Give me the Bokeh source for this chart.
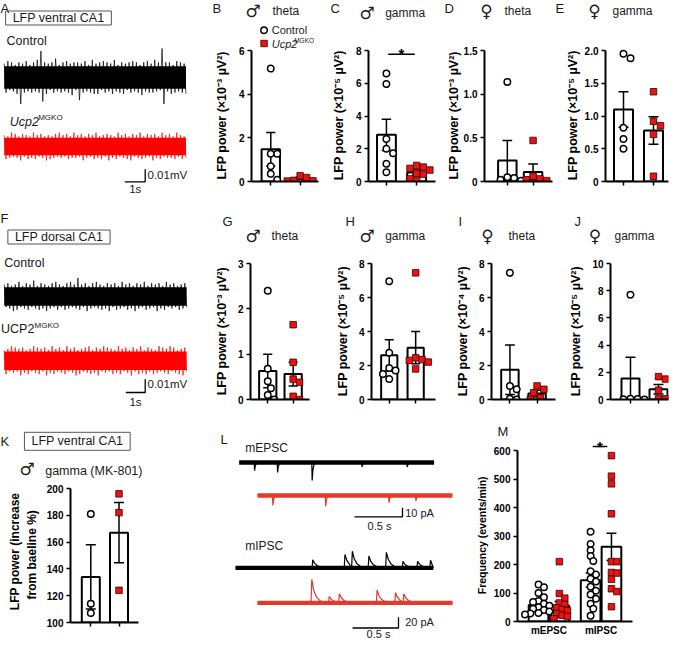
from bokeh.plotting import figure
from bokeh.models import Range1d, FixedTicker, Label
from bokeh.layouts import row, column
from bokeh.embed import file_html
from bokeh.resources import INLINE

# ---------------- values ----------------
# B: male, theta, ventral CA1 (x10^-3 uV^2)
b_ctrl = [5.17, 1.27, 1.27, 0.70, 0.35, 0.08]
b_ko = [0.26, 0.18, 0.05, 0.03, 0.02]
b_mean = [1.48, 0.15]
b_sem = [0.77, 0.05]
b_ticks = [0, 2, 4, 6]
# C: male, gamma, ventral CA1 (x10^-5 uV^2)
c_ctrl = [6.6, 5.95, 2.6, 2.0, 1.73, 1.08, 0.57]
c_ko = [0.98, 0.88, 0.8, 0.7, 0.5, 0.45, 0.16, 0.06]
c_mean = [2.85, 0.55]
c_sem = [0.95, 0.15]
c_ticks = [0, 2, 4, 6, 8]
c_sig_y = 7.77
# D: female, theta, ventral CA1 (x10^-3 uV^2)
d_ctrl = [1.14, 0.05, 0.04, 0.02, 0.01]
d_ko = [0.47, 0.06, 0.03, 0.02, 0.01]
d_mean = [0.24, 0.11]
d_sem = [0.23, 0.09]
d_ticks = [0, 0.5, 1.0, 1.5]
# E: female, gamma, ventral CA1 (x10^-5 uV^2)
e_ctrl = [1.95, 1.88, 0.82, 0.65, 0.5]
e_ko = [1.37, 0.92, 0.85, 0.72, 0.08]
e_mean = [1.1, 0.78]
e_sem = [0.27, 0.21]
e_ticks = [0, 0.5, 1.0, 1.5, 2.0]
# G: male, theta, dorsal CA1 (x10^-3 uV^2)
g_ctrl = [2.4, 0.68, 0.4, 0.25, 0.1, 0.0]
g_ko = [1.65, 0.82, 0.45, 0.38, 0.07, 0.0]
g_mean = [0.63, 0.56]
g_sem = [0.37, 0.26]
g_ticks = [0, 1, 2, 3]
# H: male, gamma, dorsal CA1 (x10^-5 uV^2)
h_ctrl = [6.95, 2.75, 1.85, 1.7, 1.5, 1.2]
h_ko = [7.45, 2.45, 2.35, 2.3, 2.2, 1.8]
h_mean = [2.6, 3.05]
h_sem = [0.92, 0.95]
h_ticks = [0, 2, 4, 6, 8]
# I: female, theta, dorsal CA1 (x10^-4 uV^2)
i_ctrl = [7.45, 0.8, 0.6, 0.05, 0.0]
i_ko = [0.8, 0.6, 0.4, 0.1, 0.0]
i_mean = [1.75, 0.35]
i_sem = [1.45, 0.2]
i_ticks = [0, 2, 4, 6, 8]
# J: female, gamma, dorsal CA1 (x10^-5 uV^2)
j_ctrl = [7.7, 0.05, 0.03, 0.02, 0.0]
j_ko = [1.68, 1.5, 0.68, 0.05, 0.05]
j_mean = [1.55, 0.75]
j_sem = [1.55, 0.35]
j_ticks = [0, 2, 4, 6, 8, 10]
# K: male gamma after MK-801 (% increase from baseline)
k_ctrl = [181, 114, 107]
k_ko = [196, 182, 124]
k_mean = [134, 167]
k_sem = [24, 22.5]
k_ticks = [100, 120, 140, 160, 180, 200]
# M: mEPSC / mIPSC frequency (events/min)
m_cats = ["mEPSC", "mIPSC"]
m_epsc_ctrl = [130, 120, 100, 85, 72, 68, 62, 55, 50, 45, 40, 35, 30, 28, 25, 22]
m_epsc_ko = [210, 98, 82, 65, 60, 48, 42, 38, 28, 22, 18, 10]
m_ipsc_ctrl = [315, 272, 250, 230, 212, 176, 165, 150, 140, 122, 108, 95, 80, 62, 45, 20]
m_ipsc_ko = [582, 510, 483, 378, 210, 210, 172, 170, 148, 115, 105, 52]
m_mean = [58, 56, 145, 262]
m_sem = [10, 14, 25, 48]
m_ticks = [0, 100, 200, 300, 400, 500, 600]
m_sig_y = 614

# LFP example traces (uV), evenly sampled envelope of the raw sweep
a_ctrl_uv = [11, -12, 13, -10, 12, -11, 10, -13, 12, -21, 11, -12, 13, -11, 10, -12, 12, -11, 14, -12,
             21, -19, 12, -13, 11, -10, 12, -12, 15, -11, 10, -12, 12, -11, 13, -12, 11, -14, 12, -10,
             12, -18, 11, -12, 13, -11, 10, -12, 14, -13, 11, -13, 12, -10, 13, -12, 12, -11, 11, -13,
             14, -11, 10, -12, 12, -13, 11, -10, 12, -12, 13, -11, 12, -12, 10, -14, 12, -11, 13, -12,
             11, -12, 14, -11, 12, -10, 23, -21, 12, -11, 12, -13, 10, -12, 13, -11, 12, -12, 11, -13]
a_ko_uv = [9, -10, 8, -9, 11, -8, 10, -9, 8, -11, 10, -8, 9, -10, 8, -9, 11, -10, 9, -8,
           10, -9, 8, -11, 9, -10, 8, -9, 10, -8, 11, -9, 9, -8, 10, -10, 8, -9, 11, -9,
           9, -8, 10, -11, 8, -9, 10, -8, 9, -10, 11, -9, 8, -10, 9, -8, 10, -11, 9, -9,
           8, -10, 11, -8, 9, -9, 10, -10, 8, -11, 10, -8, 9, -9, 11, -10, 8, -9, 10, -8,
           9, -11, 10, -9, 8, -10, 11, -8, 9, -9, 10, -9, 8, -10, 11, -8, 9, -10, 8, -9]
f_ctrl_uv = [9, -8, 10, -9, 8, -11, 9, -10, 11, -8, 8, -9, 10, -10, 9, -8, 12, -9, 8, -10,
             10, -9, 9, -11, 8, -9, 10, -8, 11, -10, 9, -8, 8, -10, 10, -9, 11, -8, 9, -9,
             14, -10, 9, -8, 10, -11, 8, -9, 10, -8, 11, -9, 9, -10, 8, -9, 10, -11, 9, -8,
             10, -10, 8, -9, 11, -8, 9, -10, 10, -9, 8, -11, 10, -9, 9, -8, 11, -10, 8, -9,
             10, -8, 9, -11, 10, -9, 8, -10, 11, -8, 9, -9, 10, -8, 8, -10, 9, -9, 10, -8]
f_ko_uv = [8, -10, 9, -8, 11, -9, 10, -8, 9, -11, 10, -9, 8, -10, 9, -8, 11, -9, 10, -10,
           9, -8, 10, -11, 8, -9, 11, -10, 9, -8, 10, -9, 8, -10, 11, -8, 9, -9, 10, -11,
           8, -10, 9, -8, 10, -9, 11, -10, 8, -9, 10, -11, 9, -8, 11, -9, 10, -8, 9, -10,
           8, -9, 11, -10, 9, -8, 10, -9, 8, -11, 10, -8, 9, -10, 11, -9, 8, -10, 10, -8,
           9, -10, 8, -9, 11, -8, 10, -9, 9, -10, 11, -8, 10, -9, 8, -10, 9, -11, 10, -8]

# miniature currents: event times (s) and amplitudes (pA)
epsc_ctrl_t = [0.16, 0.40, 0.76, 1.28, 1.75]
epsc_ctrl_a = [-9, -11, -20, -5, -5]
epsc_ko_t = [0.16, 0.71, 1.37, 1.65]
epsc_ko_a = [-11, -12, -8, -6]
ipsc_ctrl_t = [0.84, 1.19, 1.27, 1.45, 1.64, 1.82, 1.98, 2.12]
ipsc_ctrl_a = [15, 25, 31, 22, 29, 12, 12, 14]
ipsc_ko_t = [0.59, 0.78, 0.89, 1.30, 1.50, 1.59]
ipsc_ko_a = [44, 12, 17, 24, 19, 17]

# ---------------- styling ----------------
FONT = "Liberation Sans"
SYMF = "DejaVu Sans"
BLACK = "#000000"
TXT = "#1a1a1a"
RED_LFP = "#ff0000"
RED_PSC = "#e5392c"
RED_PT = "#ee1111"
MALE = "\u2642"
FEMALE = "\u2640"
NBSP = "\u00a0"


def new_fig(box, frame, xr, yr, **kw):
    x0, y0, x1, y1 = box
    l, t, r, b = frame
    p = figure(width=x1 - x0, height=y1 - y0, x_range=xr, y_range=yr,
               output_backend="svg", toolbar_location=None,
               min_border_left=l - x0, min_border_right=x1 - r,
               min_border_top=t - y0, min_border_bottom=y1 - b, **kw)
    p.frame_align = False
    p.extra_x_ranges = {"lx": Range1d(l, r)}
    p.extra_y_ranges = {"ly": Range1d(b, t)}
    p.outline_line_color = None
    p.background_fill_color = "white"
    p.border_fill_color = "white"
    for g in p.grid:
        g.visible = False
    return p


def txt(p, x, y, s, size=12, style="normal", font=FONT, color=TXT, align="left",
        base="middle", angle=0, **kw):
    p.add_layout(Label(x=x, y=y, x_range_name="lx", y_range_name="ly", text=s,
                       text_font=font, text_font_size=f"{size}px", text_font_style=style,
                       text_color=color, text_align=align, text_baseline=base,
                       angle=angle, **kw))


def anchor(p, name, ax, ay, ppx, ppy):
    l, r = p.extra_x_ranges["lx"].start, p.extra_x_ranges["lx"].end
    b, t = p.extra_y_ranges["ly"].start, p.extra_y_ranges["ly"].end
    xr = dict(p.extra_x_ranges)
    yr = dict(p.extra_y_ranges)
    xr[name] = Range1d((l - ax) / ppx, (r - ax) / ppx)
    yr[name] = Range1d((ay - b) / ppy, (ay - t) / ppy)
    p.extra_x_ranges = xr
    p.extra_y_ranges = yr


def swarm(vals, ppu, d=7.0):
    step = d / 2
    placed, offs = [], []
    cands = [0.0]
    for k in range(1, 14):
        cands += [k * step, -k * step]
    for v in vals:
        y = v * ppu
        for c in cands:
            if all((c - px) ** 2 + (y - py) ** 2 >= d * d for px, py in placed):
                break
        placed.append((c, y))
        offs.append(c)
    return offs


def style_axis(ax):
    ax.axis_line_width = 2
    ax.axis_line_color = BLACK
    ax.major_tick_line_width = 1.5
    ax.major_tick_line_color = BLACK
    ax.major_tick_in = 0
    ax.major_tick_out = 4
    ax.minor_tick_line_color = None
    ax.major_label_text_font = FONT
    ax.major_label_text_font_style = "bold"
    ax.major_label_text_font_size = "10px"
    ax.major_label_text_color = BLACK
    ax.major_label_standoff = 3


def bar_panel(box, frame, x1px, unit, ymin, ymax, yticks, ylabel, lab_off,
              bar_x, means, sems, pts, bar_w, overrides=None, xlabels=None,
              lab_size=12.5, dot_gap=7.0):
    x0, y0, x1, y1 = box
    l, t, r, b = frame
    ppu = (b - t) / (ymax - ymin)
    xr = Range1d(1 - (x1px - l) / unit, 1 + (r - x1px) / unit)
    yr = Range1d(ymin, ymax + (t - y0) / ppu)
    p = new_fig(box, (l, y0, r, b), xr, yr)
    ya, xa = p.yaxis[0], p.xaxis[0]
    style_axis(ya)
    style_axis(xa)
    ya.ticker = FixedTicker(ticks=yticks)
    ya.bounds = (ymin, ymax)
    if overrides:
        ya.major_label_overrides = overrides
    # the axis title is centred on the whole frame; pad its far end so that
    # it sits centred on the drawn axis (0 .. ymax) as in the original
    pad = int(round((t - y0) / (0.278 * lab_size)))
    ya.axis_label = ylabel + NBSP * pad
    ya.axis_label_text_font = FONT
    ya.axis_label_text_font_style = "bold"
    ya.axis_label_text_font_size = f"{lab_size}px"
    ya.axis_label_text_color = BLACK
    ya.axis_label_standoff = lab_off
    if xlabels:
        xa.ticker = FixedTicker(ticks=list(range(1, len(xlabels) + 1)))
        xa.major_label_overrides = {i + 1: s for i, s in enumerate(xlabels)}
        xa.major_tick_out = 0
    else:
        xa.ticker = FixedTicker(ticks=[], minor_ticks=list(bar_x))
        xa.minor_tick_line_color = BLACK
        xa.minor_tick_line_width = 1.5
        xa.minor_tick_in = 0
        xa.minor_tick_out = 4
    p.vbar(x=bar_x, top=means, bottom=ymin, width=bar_w / unit,
           fill_color="white", line_color=BLACK, line_width=2)
    cw = 5.0 / unit
    sx0, sy0, sx1, sy1 = [], [], [], []
    for x, m, s in zip(bar_x, means, sems):
        lo, hi = max(m - s, ymin), m + s
        sx0 += [x, x - cw, x - cw]
        sx1 += [x, x + cw, x + cw]
        sy0 += [lo, hi, lo]
        sy1 += [hi, hi, lo]
    p.segment(x0=sx0, y0=sy0, x1=sx1, y1=sy1, line_color=BLACK, line_width=1.5)
    for k, (x, vals) in enumerate(zip(bar_x, pts)):
        offs = swarm([v - ymin for v in vals], ppu, dot_gap)
        xs = [x + o / unit for o in offs]
        if k % 2 == 0:
            p.scatter(xs, vals, marker="circle", size=6.5, fill_color="white",
                      line_color=BLACK, line_width=1.5)
        else:
            p.scatter(xs, vals, marker="square", size=6.5, fill_color=RED_PT,
                      line_color="#330000", line_width=0.8)
    return p


def plain_fig(box):
    x0, y0, x1, y1 = box
    return new_fig(box, box, Range1d(x0, x1), Range1d(y1, y0),
                   x_axis_type=None, y_axis_type=None)


def header(box, letter, lx, ltop, sym, scx, scy, word, wx, wy):
    p = plain_fig(box)
    txt(p, lx, ltop, letter, size=13, base="top")
    txt(p, scx, scy, sym, size=17, font=SYMF, align="center")
    txt(p, wx, wy, word, size=12)
    return p


def lfp_trace(p, name, vals, step, core, color):
    t = [i * step for i in range(len(vals))]
    n = len(t)
    p.varea(x=t, y1=[-core] * n, y2=[core] * n, fill_color=color,
            x_range_name=name, y_range_name=name)
    p.line(x=t, y=vals, line_color=color, line_width=0.7,
           x_range_name=name, y_range_name=name)


EPSC_SHAPE = [(-0.004, 0.0), (0.0, 1.0), (0.008, 0.4), (0.02, 0.1), (0.04, 0.0)]
IPSC_SHAPE = [(-0.008, 0.0), (0.0, 1.0), (0.02, 0.55), (0.05, 0.25), (0.09, 0.08), (0.14, 0.0)]


def psc_trace(p, name, times, amps, dur, shape, noise, color):
    xs, ys = [0.0], [0.0]
    for i, (te, a) in enumerate(zip(times, amps)):
        nxt = times[i + 1] if i + 1 < len(times) else dur
        for dt, f in shape:
            tt = te + dt
            if (dt <= 0 or tt < nxt - 0.01) and tt > xs[-1]:
                xs.append(tt)
                ys.append(a * f)
    xs.append(dur)
    ys.append(0.0)
    p.varea(x=[0, dur], y1=[-noise, -noise], y2=[noise, noise], fill_color=color,
            x_range_name=name, y_range_name=name)
    p.line(x=xs, y=ys, line_color=color, line_width=1.2,
           x_range_name=name, y_range_name=name)


def scale_bar(p, name, tlen, vlen):
    p.line(x=[-tlen, 0, 0], y=[0, 0, vlen], line_color=BLACK, line_width=1.3,
           x_range_name=name, y_range_name=name)


def lbl_box(p, x, y, s, pad):
    txt(p, x, y, s, size=12.5, align="center", border_line_color="#555555",
        border_line_width=1, padding=pad)


def ucp(p, x, y, base_text, italic, size, sup_size, sup_dx, sup_dy):
    txt(p, x, y, base_text, size=size, style="italic" if italic else "normal")
    txt(p, x + sup_dx, y - sup_dy, "MGKO", size=sup_size)


def star(p, x, y, dy):
    p.add_layout(Label(x=x, y=y, text="*", text_font=FONT, text_font_size="15px",
                       text_font_style="bold", text_color=BLACK, text_align="center",
                       text_baseline="alphabetic", y_offset=dy))


LAB3 = "LFP power (\u00d710\u207b\u00b3 \u00b5V\u00b2)"
LAB4 = "LFP power (\u00d710\u207b\u2074 \u00b5V\u00b2)"
LAB5 = "LFP power (\u00d710\u207b\u2075 \u00b5V\u00b2)"

# ---------------- Row 1 ----------------
R1 = (0, 197)
H1 = 21
pA = plain_fig((0, R1[0], 211, R1[1]))
txt(pA, 0, 0, "A", size=13, base="top")
lbl_box(pA, 58, 17.5, "LFP ventral CA1", (7, 0))
txt(pA, 6, 40.3, "Control", size=12.5)
anchor(pA, "a1", 3.7, 77, 20.4, 1.26)
anchor(pA, "a2", 3.7, 146, 20.4, 1.26)
anchor(pA, "asb", 144.7, 181.3, 20.4, 1.26)
lfp_trace(pA, "a1", a_ctrl_uv, 0.09, 9, BLACK)
ucp(pA, 9.3, 121, "Ucp2", True, 12.5, 8, 28.4, 4)
lfp_trace(pA, "a2", a_ko_uv, 0.09, 7, RED_LFP)
scale_bar(pA, "asb", 1, 10)
txt(pA, 147, 174.7, "0.01mV", size=11.5)
txt(pA, 134.7, 188.7, "1s", size=11.5, align="center")

hB = header((211, 0, 328, H1), "B", 212, 0, MALE, 252.5, 10, "theta", 272, 10)
pB = bar_panel((211, H1, 328, R1[1]), (245, 50, 318, 181), 266, 32, 0, 6, b_ticks,
               LAB3, 7, [1, 2], b_mean, b_sem, [b_ctrl, b_ko], 20)
pB.scatter([258.7], [29.7], marker="circle", size=6.5, fill_color="white", line_color=BLACK,
           line_width=1.5, x_range_name="lx", y_range_name="ly")
pB.scatter([258.7], [43], marker="square", size=6.5, fill_color=RED_PT, line_color="#330000",
           line_width=0.8, x_range_name="lx", y_range_name="ly")
txt(pB, 267, 29.7, "Control", size=11)
ucp(pB, 267, 43, "Ucp2", True, 11, 6.5, 24.5, 3)

hC = header((328, 0, 443, H1), "C", 330, 0, MALE, 366.5, 12, "gamma", 384.7, 12)
pC = bar_panel((328, H1, 443, R1[1]), (364, 50, 435, 181), 383, 32, 0, 8, c_ticks,
               LAB5, 7, [1, 2], c_mean, c_sem, [c_ctrl, c_ko], 20)
pC.segment(x0=[1.06], y0=[c_sig_y], x1=[1.94], y1=[c_sig_y], line_color=BLACK, line_width=1.3)
star(pC, 1.5, c_sig_y, 1)

hD = header((443, 0, 554, H1), "D", 444, 0, FEMALE, 486, 10, "theta", 504, 10)
pD = bar_panel((443, H1, 554, R1[1]), (482, 50, 552, 181), 505.5, 26.5, 0, 1.5, d_ticks,
               LAB3, 0, [1, 2], d_mean, d_sem, [d_ctrl, d_ko], 19,
               overrides={0: "0", 0.5: "0.5", 1.0: "1.0", 1.5: "1.5"})

hE = header((554, 0, 669, H1), "E", 555, 0, FEMALE, 594, 10, "gamma", 612, 10)
pE = bar_panel((554, H1, 669, R1[1]), (605, 50, 668, 181), 623, 30, 0, 2.0, e_ticks,
               LAB5, 2, [1, 2], e_mean, e_sem, [e_ctrl, e_ko], 19,
               overrides={0: "0", 0.5: "0.5", 1.0: "1.0", 1.5: "1.5", 2.0: "2.0"})

# ---------------- Row 2 ----------------
R2 = (197, 407)
H2 = 245
pF = plain_fig((0, R2[0], 211, R2[1]))
txt(pF, 0, 210, "F", size=13, base="top")
lbl_box(pF, 58.5, 236.5, "LFP dorsal CA1", (7, 0))
txt(pF, 3.7, 262, "Control", size=12.5)
anchor(pF, "f1", 3.7, 296, 19.4, 1.33)
anchor(pF, "f2", 3.7, 360.3, 19.4, 1.33)
anchor(pF, "fsb", 144.7, 392, 19.4, 1.33)
lfp_trace(pF, "f1", f_ctrl_uv, 0.095, 7, BLACK)
ucp(pF, 0.5, 328.7, "UCP2", False, 12.5, 8, 33.5, 4)
lfp_trace(pF, "f2", f_ko_uv, 0.095, 7, RED_LFP)
scale_bar(pF, "fsb", 1, 10)
txt(pF, 147, 383.7, "0.01mV", size=11.5)
txt(pF, 135, 401, "1s", size=11.5, align="center")

hG = header((211, R2[0], 332, H2), "G", 222, 213, MALE, 252.5, 235, "theta", 271, 235)
pG = bar_panel((211, H2, 332, R2[1]), (244, 263, 309, 399), 263, 28, 0, 3, g_ticks,
               LAB3, 6, [1, 2], g_mean, g_sem, [g_ctrl, g_ko], 19)

hH = header((332, R2[0], 452, H2), "H", 345, 213, MALE, 366.5, 235, "gamma", 384.7, 235)
pH = bar_panel((332, H2, 452, R2[1]), (364, 263, 435, 399), 383.7, 29.3, 0, 8, h_ticks,
               LAB5, 6, [1, 2], h_mean, h_sem, [h_ctrl, h_ko], 18)

hI = header((452, R2[0], 566, H2), "I", 458, 213, FEMALE, 487, 235, "theta", 508, 235)
pI = bar_panel((452, H2, 566, R2[1]), (489, 263, 555, 399), 508, 28, 0, 8, i_ticks,
               LAB4, 6, [1, 2], i_mean, i_sem, [i_ctrl, i_ko], 18)

hJ = header((566, R2[0], 669, H2), "J", 574, 213, FEMALE, 594.5, 235, "gamma", 614, 235)
pJ = bar_panel((566, H2, 669, R2[1]), (610, 263, 668, 399), 630, 28, 0, 10, j_ticks,
               LAB5, 6, [1, 2], j_mean, j_sem, [j_ctrl, j_ko], 18)

# ---------------- Row 3 ----------------
R3 = (407, 639)
hK = plain_fig((0, R3[0], 217, 480))
txt(hK, 0, 433, "K", size=13, base="top")
lbl_box(hK, 76.8, 440.8, "LFP ventral CA1", (7, 2))
txt(hK, 26.5, 468.7, MALE, size=17, font=SYMF, align="center")
txt(hK, 44.7, 470, "gamma (MK-801)", size=12.5)
pK = bar_panel((0, 480, 217, R3[1]), (70, 488, 138, 622), 90.3, 28.2, 100, 200, k_ticks,
               "LFP power (increase\nfrom baeline %)", 5, [1, 2], k_mean, k_sem,
               [k_ctrl, k_ko], 18, lab_size=12)

pL = plain_fig((217, R3[0], 472, R3[1]))
txt(pL, 220, 431, "L", size=13, base="top")
txt(pL, 244.7, 447, "mEPSC", size=12)
anchor(pL, "e1", 238.7, 462, 96, 0.9)
anchor(pL, "e2", 257, 495, 96, 0.9)
anchor(pL, "es", 402, 516.3, 96, 0.9)
psc_trace(pL, "e1", epsc_ctrl_t, epsc_ctrl_a, 2.03, EPSC_SHAPE, 2.5, BLACK)
psc_trace(pL, "e2", epsc_ko_t, epsc_ko_a, 2.03, EPSC_SHAPE, 2.5, RED_PSC)
scale_bar(pL, "es", 0.5, 10)
txt(pL, 404.7, 512, "10 pA", size=11)
txt(pL, 379, 525.7, "0.5 s", size=11, align="center")
txt(pL, 244.7, 545.7, "mIPSC", size=12)
anchor(pL, "i1", 235, 567.3, 92, 0.535)
anchor(pL, "i2", 257, 602.3, 92, 0.535)
anchor(pL, "is", 398, 627.5, 92, 0.535)
psc_trace(pL, "i1", ipsc_ctrl_t, ipsc_ctrl_a, 2.15, IPSC_SHAPE, 4, BLACK)
psc_trace(pL, "i2", ipsc_ko_t, ipsc_ko_a, 2.12, IPSC_SHAPE, 4, RED_PSC)
scale_bar(pL, "is", 0.5, 20)
txt(pL, 404.7, 621, "20 pA", size=11)
txt(pL, 378, 633, "0.5 s", size=11, align="center")

hM = plain_fig((472, R3[0], 669, 437))
txt(hM, 497, 423, "M", size=13, base="top")
pM = bar_panel((472, 437, 669, R3[1]), (515, 450, 632, 621), 547, 53, 0, 600, m_ticks,
               "Frequency (events/min)", 3, [0.8, 1.2, 1.8, 2.2], m_mean, m_sem,
               [m_epsc_ctrl, m_epsc_ko, m_ipsc_ctrl, m_ipsc_ko], 20, xlabels=m_cats,
               lab_size=10.5, dot_gap=5.5)
pM.segment(x0=[1.84], y0=[m_sig_y], x1=[2.12], y1=[m_sig_y], line_color=BLACK, line_width=1.3)
star(pM, 1.98, m_sig_y, 0)

page = column(
    row(pA, column(hB, pB), column(hC, pC), column(hD, pD), column(hE, pE)),
    row(pF, column(hG, pG), column(hH, pH), column(hI, pI), column(hJ, pJ)),
    row(column(hK, pK), pL, column(hM, pM)),
)
open("out.html", "w").write(file_html(page, INLINE))
